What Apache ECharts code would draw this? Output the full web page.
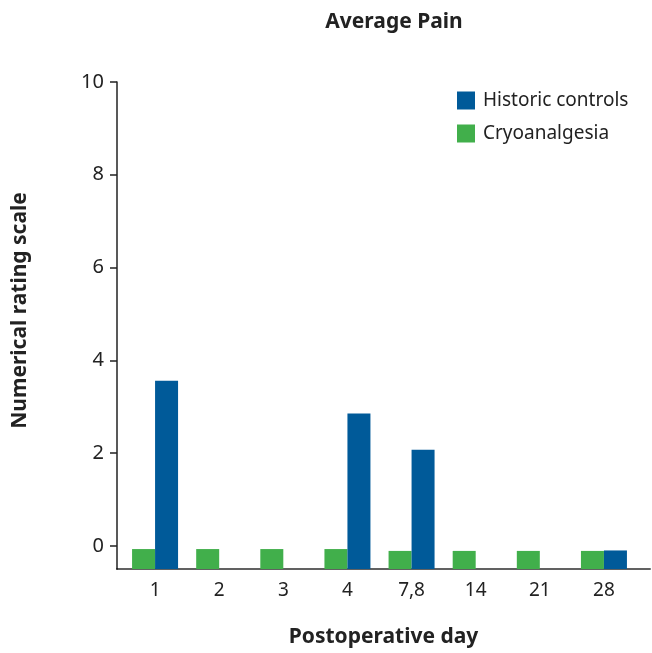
<!DOCTYPE html>
<html><head><meta charset="utf-8">
<script src="https://cdn.jsdelivr.net/npm/echarts@6/dist/echarts.min.js"></script>
<style>html,body{margin:0;padding:0;background:#fff}#c{width:652px;height:653px}</style>
</head><body><div id="c"></div>
<script>
const categories = ['1','2','3','4','7,8','14','21','28'];
const historic = [3.56, null, null, 2.85, 2.07, null, null, -0.1];
const cryo = [-0.07, -0.07, -0.07, -0.07, -0.11, -0.11, -0.11, -0.11];
const yTicks = [0, 2, 4, 6, 8, 10];

const FONT = 'Noto Sans';
const chart = echarts.init(document.getElementById('c'));
chart.setOption({
  animation: false,
  textStyle: {fontFamily: FONT},
  title: {text: 'Average Pain', left: 389, top: 7, textAlign: 'center',
    textStyle: {fontFamily: FONT, fontSize: 21, fontWeight: 'bold', color: '#222'}},
  legend: {orient: 'vertical', left: 452, top: 86, itemWidth: 18, itemHeight: 18, itemGap: 14,
    icon: 'rect', data: ['Historic controls', 'Cryoanalgesia'],
    textStyle: {fontFamily: FONT, fontSize: 19, color: '#222', padding: [0,0,0,3]}},
  grid: [
    {left: 123, right: 16, top: 82, bottom: 84},
    {left: 117, right: 2, top: 82, bottom: 84}
  ],
  xAxis: [
    {type: 'category', gridIndex: 0, data: categories,
      axisLine: {show: false}, axisTick: {show: false},
      axisLabel: {fontFamily: FONT, fontSize: 19, color: '#222', margin: 12}},
    {type: 'value', gridIndex: 1, min: 0, max: 1,
      axisLine: {show: true, onZero: false, lineStyle: {color: 'rgba(0,0,0,0.62)', width: 2}},
      axisTick: {show: false}, axisLabel: {show: false}, splitLine: {show: false},
      name: 'Postoperative day', nameLocation: 'middle', nameGap: 58,
      nameTextStyle: {fontFamily: FONT, fontSize: 21, fontWeight: 'bold', color: '#222'}}
  ],
  yAxis: [
    {type: 'value', gridIndex: 0, min: -0.5, max: 10, startValue: -0.5,
      axisLine: {show: false}, axisTick: {show: false}, axisLabel: {show: false}, splitLine: {show: false}},
    {type: 'value', gridIndex: 1, min: -0.5, max: 10,
      axisLine: {show: true, onZero: false, lineStyle: {color: '#222', width: 1.5}},
      axisTick: {show: true, length: 7, customValues: yTicks, lineStyle: {color: '#222', width: 1.5}},
      axisLabel: {customValues: yTicks, fontFamily: FONT, fontSize: 20, color: '#222', margin: 13},
      splitLine: {show: false},
      name: 'Numerical rating scale', nameLocation: 'middle', nameGap: 86, nameRotate: 90,
      nameTextStyle: {fontFamily: FONT, fontSize: 21, fontWeight: 'bold', color: '#222', padding: [0, 0, 0, 30]}}
  ],
  series: [
    {name: 'Cryoanalgesia', type: 'bar', xAxisIndex: 0, yAxisIndex: 0, data: cryo,
      barWidth: 23, barGap: '0%', itemStyle: {color: '#41af4b'}},
    {name: 'Historic controls', type: 'bar', xAxisIndex: 0, yAxisIndex: 0, data: historic,
      barWidth: 23, barGap: '0%', itemStyle: {color: '#005a99'}},
    {type: 'line', xAxisIndex: 1, yAxisIndex: 1, data: [], silent: true}
  ]
});
</script></body></html>
